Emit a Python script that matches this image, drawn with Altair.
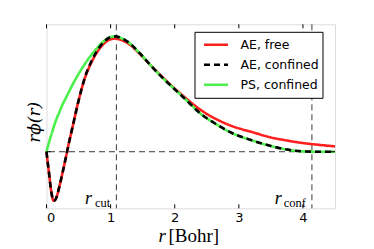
import altair as alt
import pandas as pd

# ---- data ----
r = [0, 0.02, 0.04, 0.06, 0.08, 0.11, 0.14, 0.17, 0.2, 0.25, 0.3, 0.35, 0.4, 0.5, 0.6,
     0.7, 0.8, 0.9, 1.0, 1.07, 1.15, 1.3, 1.45, 1.62, 1.8, 2.0, 2.15, 2.4, 2.65, 2.9,
     3.2, 3.5, 3.75, 4.0, 4.25, 4.5]
ae_free = [0, -0.09, -0.17, -0.26, -0.33, -0.385, -0.375, -0.335, -0.275, -0.165, -0.05,
           0.07, 0.18, 0.40, 0.58, 0.70, 0.79, 0.85, 0.883, 0.888, 0.88, 0.84, 0.77, 0.68,
           0.59, 0.495, 0.43, 0.33, 0.255, 0.20, 0.155, 0.112, 0.088, 0.068, 0.054, 0.042]
ae_conf = [0, -0.09, -0.17, -0.26, -0.33, -0.385, -0.375, -0.335, -0.275, -0.165, -0.05,
           0.07, 0.18, 0.40, 0.585, 0.71, 0.80, 0.865, 0.90, 0.905, 0.895, 0.85, 0.775, 0.68,
           0.585, 0.49, 0.42, 0.30, 0.215, 0.145, 0.09, 0.045, 0.017, 0.003, 0.0, 0.0]
ps_conf = [0, 0.04, 0.075, 0.11, 0.14, 0.19, 0.235, 0.275, 0.31, 0.37, 0.42, 0.47, 0.52,
           0.61, 0.69, 0.76, 0.82, 0.87, 0.90, 0.905, 0.895, 0.85, 0.775, 0.68,
           0.585, 0.49, 0.42, 0.30, 0.215, 0.145, 0.09, 0.045, 0.017, 0.003, 0.0, 0.0]

series_names = ["AE, free", "AE, confined", "PS, confined"]
series_colors = ["#ff1f1f", "#000000", "#4cf04c"]
series_dash = [[1, 0], [6, 4], [1, 0]]
draw_order = ["AE, free", "PS, confined", "AE, confined"]

x_ticks = [0, 1, 2, 3, 4]
y_ticks = [0]
r_cut = 1.09
r_conf = 4.14

W, H = 288.5, 184

rows = []
for name, vals in zip(series_names, [ae_free, ae_conf, ps_conf]):
    for rv, v in zip(r, vals):
        rows.append({"r": rv, "v": v, "series": name})
df = pd.DataFrame(rows)

xs = alt.Scale(domain=[0, 4.5], nice=False, zero=False)
ys = alt.Scale(domain=[-0.444, 1.0], nice=False, zero=False)

xaxis = alt.Axis(values=x_ticks, ticks=False, domain=False, grid=False, title="",
                 labelFont="DejaVu Sans", labelFontSize=13, labelColor="black",
                 labelPadding=3, format="d")
yaxis = alt.Axis(labels=False, ticks=False, domain=False, grid=False, title="")

legend = alt.Legend(
    title=None, orient="none", legendX=148, legendY=7.5,
    strokeColor="black", fillColor="white", padding=3, cornerRadius=0,
    symbolType="stroke", symbolSize=576, symbolStrokeWidth=2.6, symbolOffset=5,
    labelFont="DejaVu Sans", labelFontSize=12.5, labelColor="black", labelOffset=11,
    rowPadding=0, clipHeight=19.8
)
color = alt.Color("series:N", scale=alt.Scale(domain=series_names, range=series_colors),
                  legend=legend)
dash = alt.StrokeDash("series:N", scale=alt.Scale(domain=series_names, range=series_dash),
                      legend=legend)

hline = alt.Chart(pd.DataFrame({"y": y_ticks})).mark_rule(
    color="#3a3a3a", strokeWidth=1, strokeDash=[6, 4]
).encode(y=alt.Y("y:Q", scale=ys, axis=yaxis))

vlines = alt.Chart(pd.DataFrame({"x": [r_cut, r_conf]})).mark_rule(
    color="#3a3a3a", strokeWidth=1, strokeDash=[6, 4]
).encode(x=alt.X("x:Q", scale=xs, axis=xaxis))

curves = []
for name in draw_order:
    curves.append(
        alt.Chart(df[df.series == name]).mark_line(strokeWidth=2.6, interpolate="monotone")
        .encode(x=alt.X("r:Q", scale=xs, axis=xaxis),
                y=alt.Y("v:Q", scale=ys, axis=yaxis),
                color=color, strokeDash=dash)
    )

tick_df = pd.DataFrame({"t": x_ticks})
ticks_bottom = alt.Chart(tick_df).mark_rule(color="black", strokeWidth=1).encode(
    x=alt.X("t:Q", scale=xs, axis=xaxis), y=alt.value(H), y2=alt.value(H - 4))
ticks_top = alt.Chart(tick_df).mark_rule(color="black", strokeWidth=1).encode(
    x=alt.X("t:Q", scale=xs, axis=xaxis), y=alt.value(0), y2=alt.value(4))
ytick_df = pd.DataFrame({"t": y_ticks})
ticks_left = alt.Chart(ytick_df).mark_rule(color="black", strokeWidth=1).encode(
    y=alt.Y("t:Q", scale=ys, axis=yaxis), x=alt.value(0), x2=alt.value(4))
ticks_right = alt.Chart(ytick_df).mark_rule(color="black", strokeWidth=1).encode(
    y=alt.Y("t:Q", scale=ys, axis=yaxis), x=alt.value(W), x2=alt.value(W - 4))

# annotations r_cut / r_conf
r_lab = pd.DataFrame({"x": [0.60, 3.56], "y": [-0.41, -0.41], "t": ["r", "r"]})
sub_lab = pd.DataFrame({"x": [0.755, 3.70], "y": [-0.432, -0.432], "t": ["cut", "conf"]})
r_text = alt.Chart(r_lab).mark_text(
    font="Liberation Serif", fontStyle="italic", fontSize=18, align="left",
    baseline="alphabetic", color="black"
).encode(x=alt.X("x:Q", scale=xs, axis=xaxis), y=alt.Y("y:Q", scale=ys, axis=yaxis), text="t:N")
sub_text = alt.Chart(sub_lab).mark_text(
    font="Liberation Serif", fontSize=12.5, align="left", baseline="alphabetic", color="black"
).encode(x=alt.X("x:Q", scale=xs, axis=xaxis), y=alt.Y("y:Q", scale=ys, axis=yaxis), text="t:N")

# axis titles
xt_r = alt.Chart(pd.DataFrame({"t": ["r"]})).mark_text(
    font="Liberation Serif", fontStyle="italic", fontSize=19, align="right",
    baseline="alphabetic", color="black"
).encode(x=alt.value(119.5), y=alt.value(218), text="t:N")
xt_b = alt.Chart(pd.DataFrame({"t": ["[Bohr]"]})).mark_text(
    font="Liberation Serif", fontSize=19, align="left", baseline="alphabetic", color="black"
).encode(x=alt.value(122), y=alt.value(218), text="t:N")
yt = alt.Chart(pd.DataFrame({"t": ["rϕ(r)"]})).mark_text(
    font="DejaVu Serif", fontStyle="italic", fontSize=17, align="center",
    baseline="middle", angle=270, color="black"
).encode(x=alt.value(-11.5), y=alt.value(98), text="t:N")

chart = alt.layer(
    hline, vlines, *curves, ticks_bottom, ticks_top, ticks_left, ticks_right,
    r_text, sub_text, xt_r, xt_b, yt
).properties(
    width=W, height=H,
    autosize=alt.AutoSizeParams(type="none"),
    padding={"left": 38.5, "top": 16.3, "right": 25, "bottom": 40},
).configure_view(
    stroke="black", strokeWidth=1
).configure(background="white")

chart.save("out.html", embed_options={"renderer": "svg", "actions": False})
